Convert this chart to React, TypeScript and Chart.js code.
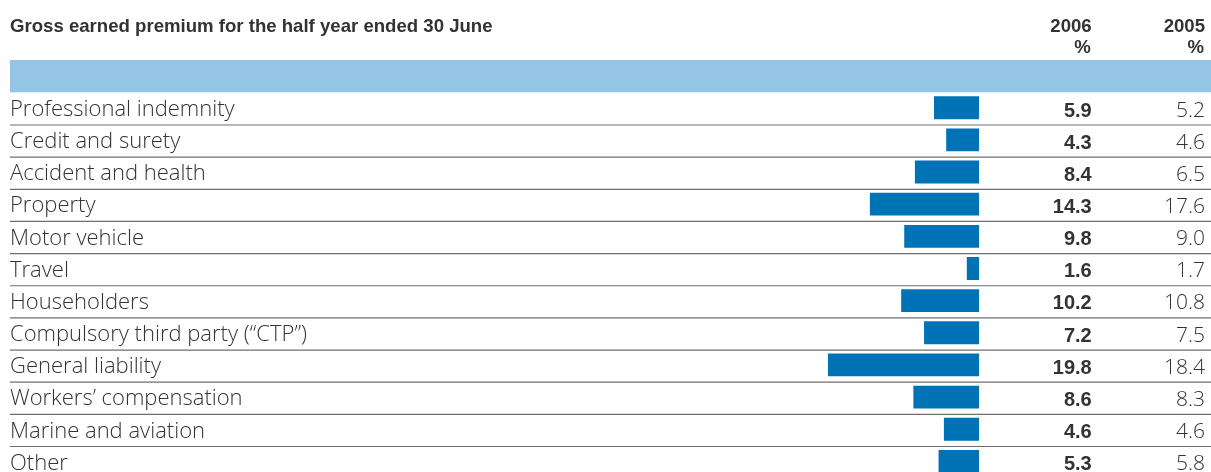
import React, { useEffect, useRef } from "react";
import { Chart, registerables } from "chart.js";

Chart.register(...registerables);

const chartTitle = "Gross earned premium for the half year ended 30 June";
const columnYears = ["2006", "2005"];
const columnUnit = "%";
const categories = [
  "Professional indemnity",
  "Credit and surety",
  "Accident and health",
  "Property",
  "Motor vehicle",
  "Travel",
  "Householders",
  "Compulsory third party (\u201cCTP\u201d)",
  "General liability",
  "Workers\u2019 compensation",
  "Marine and aviation",
  "Other",
];
const share2006 = [5.9, 4.3, 8.4, 14.3, 9.8, 1.6, 10.2, 7.2, 19.8, 8.6, 4.6, 5.3];
const share2005 = [5.2, 4.6, 6.5, 17.6, 9.0, 1.7, 10.8, 7.5, 18.4, 8.3, 4.6, 5.8];

const W = 1211;
const H = 490;
const LEFT = 10;
const BAR_RIGHT = 979;
const PLOT_LEFT = 310;
const COL1_RIGHT = 1091.7;
const COL2_RIGHT = 1205;
const ROW = 32.15;
const LINE0 = 92.85; // bottom of the header band / top of first row
const BAR_SHIFT = 1.2; // bars sit slightly above the row centre
const TOP = LINE0 - BAR_SHIFT;
const BOTTOM = TOP + ROW * categories.length;
const PX_PER_UNIT = 7.63;
const X_MAX = (BAR_RIGHT - PLOT_LEFT) / PX_PER_UNIT;

const BAR_BLUE = "#0072b6";
const BAND_BLUE = "#94c5e5";
const TEXT = "#333333";
const LINE = "#6e6e6e";
const LABEL_FONT = "300 22px 'Open Sans', Roboto, 'Liberation Sans', sans-serif";
const VALUE_FONT = "300 21px 'Open Sans', Roboto, 'Liberation Sans', sans-serif";
const BOLD_FONT = "bold 20px 'Liberation Sans', Arial, sans-serif";
const HEAD_FONT = "bold 18.6px 'Liberation Sans', Arial, sans-serif";

const tablePlugin = {
  id: "tableDecor",
  beforeDraw(chart: any) {
    const ctx = chart.ctx;
    ctx.save();
    ctx.fillStyle = "#ffffff";
    ctx.fillRect(0, 0, W, H);
    ctx.fillStyle = BAND_BLUE;
    ctx.fillRect(LEFT, 60, W - LEFT, 32.3);
    ctx.fillStyle = TEXT;
    ctx.font = HEAD_FONT;
    ctx.textBaseline = "alphabetic";
    ctx.textAlign = "left";
    ctx.fillText(chartTitle, LEFT, 32);
    ctx.textAlign = "right";
    ctx.fillText(columnYears[0], COL1_RIGHT, 32);
    ctx.fillText(columnYears[1], COL2_RIGHT, 32);
    ctx.fillText(columnUnit, COL1_RIGHT - 1, 53);
    ctx.fillText(columnUnit, COL2_RIGHT - 1, 53);
    ctx.restore();
  },
  afterDraw(chart: any) {
    const ctx = chart.ctx;
    const y = chart.scales.y;
    ctx.save();
    ctx.strokeStyle = LINE;
    ctx.lineWidth = 1.2;
    ctx.textBaseline = "alphabetic";
    for (let i = 0; i < categories.length; i++) {
      const lineY = y.getPixelForValue(i) + ROW / 2 + BAR_SHIFT;
      ctx.beginPath();
      ctx.moveTo(LEFT, lineY);
      ctx.lineTo(W, lineY);
      ctx.stroke();
      const base = lineY - 9;
      ctx.fillStyle = TEXT;
      ctx.font = LABEL_FONT;
      ctx.textAlign = "left";
      ctx.fillText(categories[i], LEFT, base);
      ctx.textAlign = "right";
      ctx.font = VALUE_FONT;
      ctx.fillText(share2005[i].toFixed(1), COL2_RIGHT, base + 0.5);
      ctx.font = BOLD_FONT;
      ctx.fillText(share2006[i].toFixed(1), COL1_RIGHT, base + 0.5);
    }
    ctx.restore();
  },
};

export default function App() {
  const ref = useRef<HTMLCanvasElement | null>(null);
  useEffect(() => {
    if (!ref.current) return;
    const chart = new Chart(ref.current, {
      type: "bar",
      data: {
        labels: categories,
        datasets: [
          {
            label: "2006",
            data: share2006,
            backgroundColor: BAR_BLUE,
            borderWidth: 0,
            barPercentage: 0.71,
            categoryPercentage: 1,
          },
        ],
      },
      options: {
        indexAxis: "y",
        responsive: false,
        animation: false,
        events: [],
        layout: {
          padding: { left: PLOT_LEFT, right: W - BAR_RIGHT, top: TOP, bottom: H - BOTTOM },
        },
        plugins: {
          legend: { display: false },
          title: { display: false },
          tooltip: { enabled: false },
        },
        scales: {
          x: { type: "linear", reverse: true, min: 0, max: X_MAX, display: false },
          y: { type: "category", offset: true, display: false },
        },
      } as any,
      plugins: [tablePlugin],
    });
    return () => chart.destroy();
  }, []);
  return (
    <div
      style={{
        position: "fixed",
        left: 0,
        top: 0,
        width: W,
        height: 472,
        overflow: "hidden",
        background: "#fff",
      }}
    >
      <canvas ref={ref} width={W} height={H} style={{ display: "block", width: W, height: H }} />
    </div>
  );
}
